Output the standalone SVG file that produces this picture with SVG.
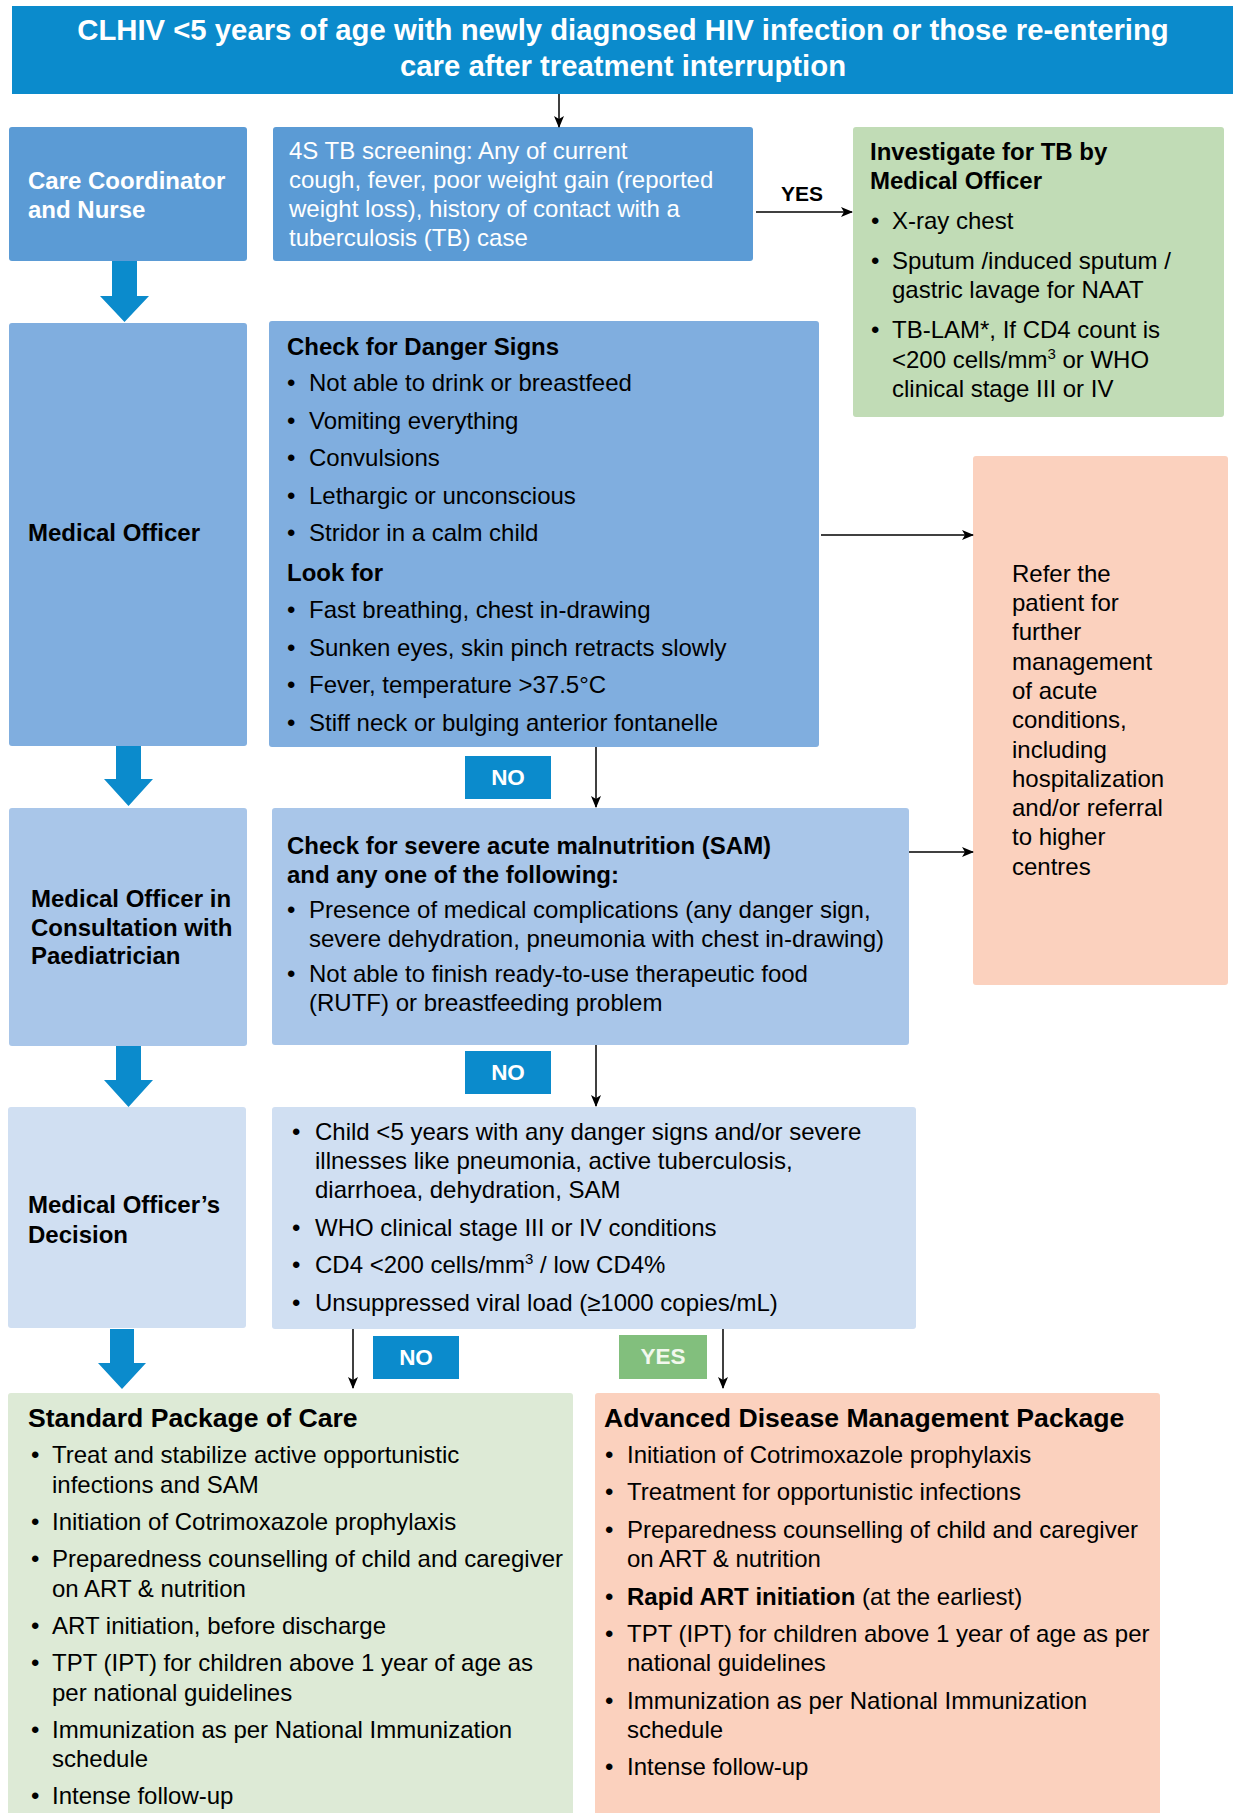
<svg xmlns="http://www.w3.org/2000/svg" width="1233" height="1813" viewBox="0 0 1233 1813">
<style>
text{font-family:"Liberation Sans",Arial,sans-serif;font-size:24px;fill:#000}
.w{fill:#fff}
.b{font-weight:bold}
.h{font-weight:bold;font-size:26.6px}
.t{font-weight:bold;font-size:29.3px;fill:#fff}
.lab{font-weight:bold;font-size:22.5px;fill:#fff}
.sup{font-size:15px}
.conn{stroke:#000;stroke-width:1.5;fill:none}
.fat{fill:#0B8BCC}
</style>
<defs>
<marker id="ah" markerWidth="12" markerHeight="10" refX="11" refY="5" orient="auto" markerUnits="userSpaceOnUse">
<path d="M0,0 L12,5 L0,10 L3,5 Z" fill="#000"/>
</marker>
</defs>

<g id="title">
<rect x="12" y="6" width="1221" height="88" fill="#0B8BCC"/>
<text class="t" x="623" y="40" text-anchor="middle">CLHIV &lt;5 years of age with newly diagnosed HIV infection or those re-entering</text>
<text class="t" x="623" y="76" text-anchor="middle">care after treatment interruption</text>
</g>

<g id="care-coordinator">
<rect x="9" y="127" width="238" height="134" rx="3" fill="#5B9BD5"/>
<text class="b w" x="28" y="189">Care Coordinator</text>
<text class="b w" x="28" y="218">and Nurse</text>
</g>

<g id="tb-screening">
<rect x="273" y="127" width="480" height="134" rx="3" fill="#5B9BD5"/>
<text class="w" x="289" y="159">4S TB screening: Any of current</text>
<text class="w" x="289" y="188">cough, fever, poor weight gain (reported</text>
<text class="w" x="289" y="217">weight loss), history of contact with a</text>
<text class="w" x="289" y="246">tuberculosis (TB) case</text>
</g>

<g id="investigate-tb">
<rect x="853" y="127" width="371" height="290" rx="3" fill="#C1DCB6"/>
<text class="b" x="870" y="160">Investigate for TB by</text>
<text class="b" x="870" y="189">Medical Officer</text>
<text x="871" y="229">•</text><text x="892" y="229">X-ray chest</text>
<text x="871" y="269">•</text><text x="892" y="269">Sputum /induced sputum /</text>
<text x="892" y="298">gastric lavage for NAAT</text>
<text x="871" y="338">•</text><text x="892" y="338">TB-LAM*, If CD4 count is</text>
<text x="892" y="368">&lt;200 cells/mm<tspan class="sup" dy="-9">3</tspan><tspan dy="9"> or WHO</tspan></text>
<text x="892" y="397">clinical stage III or IV</text>
</g>

<g id="medical-officer">
<rect x="9" y="323" width="238" height="423" rx="3" fill="#80AEDF"/>
<text class="b" x="28" y="541">Medical Officer</text>
</g>

<g id="danger-signs">
<rect x="269" y="321" width="550" height="426" rx="3" fill="#80AEDF"/>
<text class="b" x="287" y="355">Check for Danger Signs</text>
<text x="287" y="391">•</text><text x="309" y="391">Not able to drink or breastfeed</text>
<text x="287" y="429">•</text><text x="309" y="429">Vomiting everything</text>
<text x="287" y="466">•</text><text x="309" y="466">Convulsions</text>
<text x="287" y="504">•</text><text x="309" y="504">Lethargic or unconscious</text>
<text x="287" y="541">•</text><text x="309" y="541">Stridor in a calm child</text>
<text class="b" x="287" y="581">Look for</text>
<text x="287" y="618">•</text><text x="309" y="618">Fast breathing, chest in-drawing</text>
<text x="287" y="656">•</text><text x="309" y="656">Sunken eyes, skin pinch retracts slowly</text>
<text x="287" y="693">•</text><text x="309" y="693">Fever, temperature &gt;37.5°C</text>
<text x="287" y="731">•</text><text x="309" y="731">Stiff neck or bulging anterior fontanelle</text>
</g>

<g id="refer">
<rect x="973" y="456" width="255" height="529" rx="3" fill="#FBD1BE"/>
<text x="1012" y="582">Refer the</text>
<text x="1012" y="611">patient for</text>
<text x="1012" y="640">further</text>
<text x="1012" y="670">management</text>
<text x="1012" y="699">of acute</text>
<text x="1012" y="728">conditions,</text>
<text x="1012" y="758">including</text>
<text x="1012" y="787">hospitalization</text>
<text x="1012" y="816">and/or referral</text>
<text x="1012" y="845">to higher</text>
<text x="1012" y="875">centres</text>
</g>

<g id="mo-paediatrician">
<rect x="9" y="808" width="238" height="238" rx="3" fill="#A9C6E9"/>
<text class="b" x="31" y="907">Medical Officer in</text>
<text class="b" x="31" y="936">Consultation with</text>
<text class="b" x="31" y="964">Paediatrician</text>
</g>

<g id="sam-check">
<rect x="272" y="808" width="637" height="237" rx="3" fill="#A9C6E9"/>
<text class="b" x="287" y="854">Check for severe acute malnutrition (SAM)</text>
<text class="b" x="287" y="883">and any one of the following:</text>
<text x="287" y="918">•</text><text x="309" y="918">Presence of medical complications (any danger sign,</text>
<text x="309" y="947">severe dehydration, pneumonia with chest in-drawing)</text>
<text x="287" y="982">•</text><text x="309" y="982">Not able to finish ready-to-use therapeutic food</text>
<text x="309" y="1011">(RUTF) or breastfeeding problem</text>
</g>

<g id="mo-decision">
<rect x="8" y="1107" width="238" height="221" rx="3" fill="#D0DFF2"/>
<text class="b" x="28" y="1213">Medical Officer’s</text>
<text class="b" x="28" y="1243">Decision</text>
</g>

<g id="decision-criteria">
<rect x="272" y="1107" width="644" height="222" rx="3" fill="#D0DFF2"/>
<text x="292" y="1140">•</text><text x="315" y="1140">Child &lt;5 years with any danger signs and/or severe</text>
<text x="315" y="1169">illnesses like pneumonia, active tuberculosis,</text>
<text x="315" y="1198">diarrhoea, dehydration, SAM</text>
<text x="292" y="1236">•</text><text x="315" y="1236">WHO clinical stage III or IV conditions</text>
<text x="292" y="1273">•</text><text x="315" y="1273">CD4 &lt;200 cells/mm<tspan class="sup" dy="-9">3</tspan><tspan dy="9"> / low CD4%</tspan></text>
<text x="292" y="1311">•</text><text x="315" y="1311">Unsuppressed viral load (≥1000 copies/mL)</text>
</g>

<g id="standard-package">
<rect x="8" y="1393" width="565" height="430" rx="3" fill="#DDEAD6"/>
<text class="h" x="28" y="1427">Standard Package of Care</text>
<text x="31" y="1463">•</text><text x="52" y="1463">Treat and stabilize active opportunistic</text>
<text x="52" y="1493">infections and SAM</text>
<text x="31" y="1530">•</text><text x="52" y="1530">Initiation of Cotrimoxazole prophylaxis</text>
<text x="31" y="1567">•</text><text x="52" y="1567">Preparedness counselling of child and caregiver</text>
<text x="52" y="1597">on ART &amp; nutrition</text>
<text x="31" y="1634">•</text><text x="52" y="1634">ART initiation, before discharge</text>
<text x="31" y="1671">•</text><text x="52" y="1671">TPT (IPT) for children above 1 year of age as</text>
<text x="52" y="1701">per national guidelines</text>
<text x="31" y="1738">•</text><text x="52" y="1738">Immunization as per National Immunization</text>
<text x="52" y="1767">schedule</text>
<text x="31" y="1804">•</text><text x="52" y="1804">Intense follow-up</text>
</g>

<g id="advanced-package">
<rect x="595" y="1393" width="565" height="430" rx="3" fill="#FBD1BE"/>
<text class="h" x="604" y="1427">Advanced Disease Management Package</text>
<text x="605" y="1463">•</text><text x="627" y="1463">Initiation of Cotrimoxazole prophylaxis</text>
<text x="605" y="1500">•</text><text x="627" y="1500">Treatment for opportunistic infections</text>
<text x="605" y="1538">•</text><text x="627" y="1538">Preparedness counselling of child and caregiver</text>
<text x="627" y="1567">on ART &amp; nutrition</text>
<text x="605" y="1605">•</text><text x="627" y="1605"><tspan class="b">Rapid ART initiation</tspan> (at the earliest)</text>
<text x="605" y="1642">•</text><text x="627" y="1642">TPT (IPT) for children above 1 year of age as per</text>
<text x="627" y="1671">national guidelines</text>
<text x="605" y="1709">•</text><text x="627" y="1709">Immunization as per National Immunization</text>
<text x="627" y="1738">schedule</text>
<text x="605" y="1775">•</text><text x="627" y="1775">Intense follow-up</text>
</g>

<g id="connectors">
<line class="conn" x1="559" y1="94" x2="559" y2="127" marker-end="url(#ah)"/>
<line class="conn" x1="756" y1="212" x2="852" y2="212" marker-end="url(#ah)"/>
<line class="conn" x1="821" y1="535" x2="973" y2="535" marker-end="url(#ah)"/>
<line class="conn" x1="909" y1="852" x2="973" y2="852" marker-end="url(#ah)"/>
<line class="conn" x1="596" y1="747" x2="596" y2="807" marker-end="url(#ah)"/>
<line class="conn" x1="596" y1="1045" x2="596" y2="1106" marker-end="url(#ah)"/>
<line class="conn" x1="353" y1="1329" x2="353" y2="1388" marker-end="url(#ah)"/>
<line class="conn" x1="723" y1="1329" x2="723" y2="1388" marker-end="url(#ah)"/>
<polygon class="fat" points="112,261 137,261 137,296 149,296 124.5,322 100,296 112,296"/>
<polygon class="fat" points="116,746 141,746 141,779 153,779 128.5,806 104,779 116,779"/>
<polygon class="fat" points="116,1046 141,1046 141,1080 153,1080 128.5,1107 104,1080 116,1080"/>
<polygon class="fat" points="110,1329 134,1329 134,1363 146,1363 122,1389 98,1363 110,1363"/>
<text class="b" x="802" y="201" text-anchor="middle" style="font-size:21px">YES</text>
<rect x="465" y="756" width="86" height="43" fill="#0B8BCC"/>
<text class="lab" x="508" y="785" text-anchor="middle">NO</text>
<rect x="465" y="1051" width="86" height="43" fill="#0B8BCC"/>
<text class="lab" x="508" y="1080" text-anchor="middle">NO</text>
<rect x="373" y="1336" width="86" height="43" fill="#0B8BCC"/>
<text class="lab" x="416" y="1365" text-anchor="middle">NO</text>
<rect x="619" y="1335" width="88" height="44" fill="#82BF7D"/>
<text class="lab" x="663" y="1364" text-anchor="middle" style="fill:#F2F8EE">YES</text>
</g>
</svg>
